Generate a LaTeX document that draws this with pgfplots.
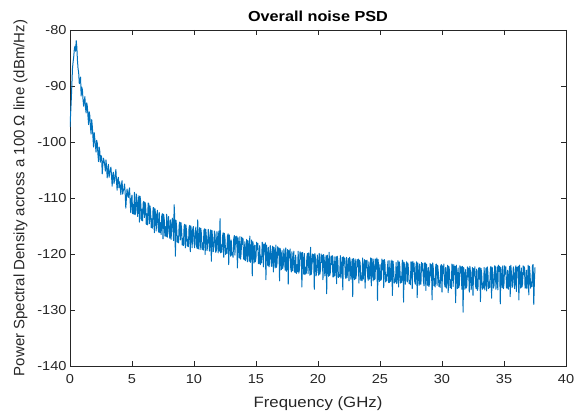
\documentclass[border=0pt]{standalone}
\usepackage{fontspec}
\setmainfont{Liberation Sans}[FakeStretch=1.12]
\newfontfamily\plainfont{Liberation Sans}
\usepackage{pgfplots}
\pgfplotsset{compat=1.18}
\definecolor{mblue}{rgb}{0,0.447,0.741}
\definecolor{mgray}{rgb}{0.15,0.15,0.15}
\begin{document}
\begin{tikzpicture}
\begin{axis}[
 scale only axis, width=496bp, height=336bp,
 xmin=0, xmax=40, ymin=-140, ymax=-80,
 xtick={0,5,...,40}, ytick={-140,-130,...,-80},
 tick align=inside, major tick length=5bp,
 axis line style={mgray, line width=0.5pt},
 every tick/.style={mgray, line width=0.5pt},
 /pgf/number format/assume math mode=true,
 tick label style={font=\fontsize{13bp}{15bp}\selectfont, text=mgray},
 xticklabel style={yshift=-5bp},
 label style={font=\fontsize{15bp}{18bp}\selectfont, text=mgray},
 xlabel style={yshift=-6bp},
 ylabel style={font=\plainfont\fontsize{15bp}{18bp}\selectfont, yshift=3bp},
 title style={font=\bfseries\fontsize{14.5bp}{17bp}\selectfont, yshift=-1bp},
 title={Overall noise PSD},
 xlabel={Frequency (GHz)},
 ylabel={Power Spectral Density across a 100 Ω line (dBm/Hz)},
]
\coordinate (ll) at (rel axis cs:0,0);
\coordinate (ur) at (rel axis cs:1,1);
\addplot[mblue, line width=1.0pt, line join=round] coordinates {
(0.0,-97.3)(0.05,-95.0)(0.1,-92.6)(0.15,-89.8)(0.2,-86.9)(0.25,-85.7)(0.3,-84.8)(0.35,-83.4)(0.4,-82.9)(0.45,-83.8)(0.5,-81.9)(0.55,-83.0)(0.6,-85.4)(0.65,-86.9)(0.7,-87.6)(0.75,-89.6)(0.8,-89.1)(0.85,-88.4)(0.9,-91.8)(0.95,-90.2)(1.0,-90.7)
(1.05,-92.4)(1.1,-93.6)(1.15,-92.8)(1.2,-91.9)(1.25,-93.9)(1.3,-94.8)(1.35,-93.0)(1.4,-93.7)(1.45,-95.4)(1.5,-96.9)(1.55,-94.6)(1.6,-95.3)(1.65,-97.3)(1.7,-98.6)(1.75,-96.0)(1.8,-97.2)(1.85,-99.1)(1.9,-100.9)(1.95,-98.3)(2.0,-99.4)
(2.05,-100.6)(2.1,-101.8)(2.15,-99.7)(2.2,-100.2)(2.25,-102.1)(2.3,-103.5)(2.35,-100.9)(2.4,-101.6)(2.45,-103.6)(2.5,-102.4)(2.55,-102.7)(2.6,-105.7)(2.65,-104.0)(2.7,-102.9)(2.75,-103.4)(2.8,-104.1)(2.85,-105.2)(2.9,-103.2)(2.95,-104.3)(3.0,-106.4)
(3.05,-105.0)(3.1,-104.0)(3.15,-106.3)(3.2,-105.6)(3.25,-104.9)(3.3,-104.5)(3.35,-106.1)(3.4,-107.9)(3.45,-105.8)(3.5,-105.4)(3.55,-107.4)(3.6,-106.8)(3.65,-105.9)(3.7,-104.9)(3.75,-107.0)(3.8,-108.6)(3.85,-106.7)(3.9,-106.3)(3.95,-108.2)(4.0,-107.1)
(4.05,-108.0)(4.1,-109.4)(4.15,-107.6)(4.2,-106.9)(4.25,-109.3)(4.3,-108.7)(4.35,-108.3)(4.4,-107.5)(4.45,-109.1)(4.5,-111.8)(4.55,-110.0)(4.6,-108.4)(4.65,-109.2)(4.7,-109.9)(4.75,-108.8)(4.8,-108.2)(4.85,-110.6)(4.9,-112.6)(4.95,-110.1)(5.0,-109.5)
(5.05,-112.8)(5.1,-111.2)(5.15,-112.9)(5.2,-109.0)(5.25,-113.0)(5.3,-112.4)(5.35,-109.3)(5.4,-110.1)(5.45,-113.3)(5.5,-111.7)(5.55,-109.6)(5.6,-114.3)(5.65,-109.7)(5.7,-110.6)(5.75,-114.0)(5.8,-112.0)(5.85,-114.1)(5.9,-110.9)(5.95,-110.6)(6.0,-113.5)
(6.05,-110.8)(6.1,-111.3)(6.15,-114.7)(6.2,-112.8)(6.25,-114.8)(6.3,-110.9)(6.35,-111.0)(6.4,-114.6)(6.45,-111.4)(6.5,-112.4)(6.55,-115.3)(6.6,-113.7)(6.65,-115.4)(6.7,-111.8)(6.75,-111.7)(6.8,-116.2)(6.85,-111.9)(6.9,-112.9)(6.95,-115.9)(7.0,-113.1)
(7.05,-112.2)(7.1,-115.0)(7.15,-116.1)(7.2,-112.6)(7.25,-116.2)(7.3,-114.4)(7.35,-116.5)(7.4,-113.2)(7.45,-112.8)(7.5,-117.3)(7.55,-112.9)(7.6,-113.8)(7.65,-116.8)(7.7,-115.1)(7.75,-116.9)(7.8,-112.9)(7.85,-117.0)(7.9,-114.7)(7.95,-113.3)(8.0,-116.0)
(8.05,-117.2)(8.1,-113.9)(8.15,-117.4)(8.2,-115.6)(8.25,-113.6)(8.3,-114.3)(8.35,-117.6)(8.4,-111.2)(8.45,-113.9)(8.5,-120.4)(8.55,-114.0)(8.6,-115.2)(8.65,-117.9)(8.7,-116.8)(8.75,-118.0)(8.8,-114.9)(8.85,-114.3)(8.9,-117.5)(8.95,-114.4)(9.0,-115.6)
(9.05,-118.4)(9.1,-117.2)(9.15,-118.5)(9.2,-115.1)(9.25,-114.7)(9.3,-118.9)(9.35,-114.8)(9.4,-116.0)(9.45,-118.6)(9.5,-117.4)(9.55,-118.7)(9.6,-115.3)(9.65,-114.9)(9.7,-119.6)(9.75,-115.0)(9.8,-116.4)(9.85,-118.9)(9.9,-115.5)(9.95,-115.1)(10.0,-117.8)
(10.05,-118.9)(10.1,-116.2)(10.15,-115.2)(10.2,-118.5)(10.25,-119.0)(10.3,-113.9)(10.35,-119.1)(10.4,-117.1)(10.45,-115.3)(10.5,-119.2)(10.55,-115.4)(10.6,-116.5)(10.65,-119.2)(10.7,-118.0)(10.75,-119.3)(10.8,-115.8)(10.85,-115.5)(10.9,-120.1)(10.95,-115.6)(11.0,-117.0)
(11.05,-119.4)(11.1,-118.6)(11.15,-115.6)(11.2,-116.3)(11.25,-119.5)(11.3,-117.9)(11.35,-115.7)(11.4,-121.3)(11.45,-115.8)(11.5,-117.2)(11.55,-119.6)(11.6,-118.8)(11.65,-115.9)(11.7,-116.6)(11.75,-119.7)(11.8,-119.4)(11.85,-116.0)(11.9,-117.6)(11.95,-119.8)(12.0,-115.9)
(12.05,-119.5)(12.1,-113.7)(12.15,-119.8)(12.2,-118.4)(12.25,-119.7)(12.3,-116.9)(12.35,-116.2)(12.4,-120.6)(12.45,-116.3)(12.5,-117.3)(12.55,-120.1)(12.6,-119.0)(12.65,-119.9)(12.7,-116.8)(12.75,-116.4)(12.8,-121.9)(12.85,-116.6)(12.9,-118.2)(12.95,-120.4)(13.0,-117.5)
(13.05,-120.2)(13.1,-119.7)(13.15,-120.6)(13.2,-117.4)(13.25,-116.7)(13.3,-120.2)(13.35,-116.9)(13.4,-118.1)(13.45,-116.8)(13.5,-122.5)(13.55,-117.1)(13.6,-118.6)(13.65,-120.7)(13.7,-116.9)(13.75,-120.9)(13.8,-119.9)(13.85,-117.0)(13.9,-118.3)(13.95,-117.2)(14.0,-120.8)
(14.05,-121.0)(14.1,-117.8)(14.15,-121.2)(14.2,-119.5)(14.25,-117.4)(14.3,-121.4)(14.35,-117.6)(14.4,-118.6)(14.45,-121.3)(14.5,-116.8)(14.55,-121.5)(14.6,-120.3)(14.65,-117.5)(14.7,-123.9)(14.75,-117.8)(14.8,-119.1)(14.85,-121.6)(14.9,-118.4)(14.95,-121.4)(15.0,-120.6)
(15.05,-117.9)(15.1,-119.2)(15.15,-118.1)(15.2,-121.7)(15.25,-121.7)(15.3,-118.5)(15.35,-121.9)(15.4,-120.4)(15.45,-121.6)(15.5,-117.9)(15.55,-118.2)(15.6,-122.3)(15.65,-118.3)(15.7,-119.6)(15.75,-118.0)(15.8,-124.6)(15.85,-118.4)(15.9,-120.0)(15.95,-122.1)(16.0,-118.8)
(16.05,-122.3)(16.1,-121.5)(16.15,-118.5)(16.2,-119.3)(16.25,-122.2)(16.3,-120.9)(16.35,-118.6)(16.4,-123.2)(16.45,-118.8)(16.5,-119.8)(16.55,-122.5)(16.6,-118.4)(16.65,-122.4)(16.7,-121.6)(16.75,-118.7)(16.8,-120.2)(16.85,-118.9)(16.9,-124.8)(16.95,-119.0)(17.0,-120.5)
(17.05,-122.8)(17.1,-119.4)(17.15,-122.6)(17.2,-122.0)(17.25,-119.1)(17.3,-120.6)(17.35,-122.9)(17.4,-118.9)(17.45,-123.1)(17.5,-121.8)(17.55,-119.2)(17.6,-125.4)(17.65,-119.4)(17.7,-120.7)(17.75,-119.1)(17.8,-122.5)(17.85,-123.2)(17.9,-119.6)(17.95,-123.0)(18.0,-121.3)
(18.05,-119.5)(18.1,-123.1)(18.15,-123.3)(18.2,-120.2)(18.25,-123.5)(18.3,-121.9)(18.35,-123.2)(18.4,-119.5)(18.45,-123.4)(18.5,-122.8)(18.55,-119.6)(18.6,-120.9)(18.65,-119.8)(18.7,-125.9)(18.75,-119.7)(18.8,-121.2)(18.85,-123.6)(18.9,-119.9)(18.95,-123.7)(19.0,-122.4)
(19.05,-123.5)(19.1,-120.6)(19.15,-119.9)(19.2,-123.5)(19.25,-119.8)(19.3,-121.1)(19.35,-123.8)(19.4,-118.8)(19.45,-123.7)(19.5,-122.7)(19.55,-120.0)(19.6,-121.4)(19.65,-120.1)(19.7,-126.3)(19.75,-119.9)(19.8,-120.9)(19.85,-123.9)(19.9,-123.0)(19.95,-120.2)(20.0,-121.6)
(20.05,-123.8)(20.1,-119.9)(20.15,-123.6)(20.2,-122.9)(20.25,-120.0)(20.3,-121.5)(20.35,-120.2)(20.4,-124.6)(20.45,-120.1)(20.5,-120.8)(20.55,-123.9)(20.6,-122.3)(20.65,-120.3)(20.7,-127.1)(20.75,-120.2)(20.8,-121.8)(20.85,-124.0)(20.9,-119.7)(20.95,-123.8)(21.0,-123.2)
(21.05,-120.4)(21.1,-121.9)(21.15,-120.3)(21.2,-124.1)(21.25,-124.1)(21.3,-120.5)(21.35,-123.9)(21.4,-122.6)(21.45,-120.5)(21.5,-125.3)(21.55,-120.4)(21.6,-121.2)(21.65,-124.2)(21.7,-123.7)(21.75,-124.0)(21.8,-120.3)(21.85,-124.3)(21.9,-122.8)(21.95,-120.6)(22.0,-126.4)
(22.05,-120.5)(22.1,-121.7)(22.15,-120.7)(22.2,-123.9)(22.25,-124.4)(22.3,-120.6)(22.35,-124.2)(22.4,-122.4)(22.45,-120.8)(22.5,-124.8)(22.55,-120.6)(22.6,-121.3)(22.65,-124.5)(22.7,-123.1)(22.75,-120.9)(22.8,-127.6)(22.85,-120.8)(22.9,-122.0)(22.95,-124.6)(23.0,-120.9)
(23.05,-124.4)(23.1,-123.6)(23.15,-121.0)(23.2,-122.3)(23.25,-120.9)(23.3,-125.2)(23.35,-121.1)(23.4,-121.6)(23.45,-124.7)(23.5,-123.9)(23.55,-124.8)(23.6,-120.7)(23.65,-124.5)(23.7,-122.8)(23.75,-121.0)(23.8,-126.1)(23.85,-121.2)(23.9,-122.5)(23.95,-121.1)(24.0,-124.0)
(24.05,-124.7)(24.1,-121.4)(24.15,-124.5)(24.2,-123.3)(24.25,-120.7)(24.3,-125.7)(24.35,-120.8)(24.4,-122.2)(24.45,-124.8)(24.5,-120.9)(24.55,-124.6)(24.6,-124.4)(24.65,-120.9)(24.7,-122.7)(24.75,-120.7)(24.8,-128.3)(24.85,-121.0)(24.9,-123.5)(24.95,-124.9)(25.0,-121.9)
(25.05,-124.7)(25.1,-124.6)(25.15,-120.9)(25.2,-122.8)(25.25,-121.1)(25.3,-126.0)(25.35,-121.0)(25.4,-121.6)(25.45,-125.0)(25.5,-123.7)(25.55,-124.8)(25.6,-122.4)(25.65,-121.2)(25.7,-125.1)(25.75,-125.1)(25.8,-121.2)(25.85,-124.9)(25.9,-124.2)(25.95,-121.1)(26.0,-127.4)
(26.05,-121.3)(26.1,-122.6)(26.15,-125.2)(26.2,-124.5)(26.25,-125.0)(26.3,-121.5)(26.35,-125.3)(26.4,-123.8)(26.45,-121.2)(26.5,-125.9)(26.55,-121.4)(26.6,-122.3)(26.65,-125.2)(26.7,-124.0)(26.75,-125.1)(26.8,-121.1)(26.85,-121.3)(26.9,-128.6)(26.95,-121.5)(27.0,-123.4)
(27.05,-125.4)(27.1,-122.0)(27.15,-121.4)(27.2,-125.0)(27.25,-121.6)(27.3,-122.9)(27.35,-125.3)(27.4,-124.7)(27.45,-125.5)(27.5,-121.4)(27.55,-121.5)(27.6,-126.2)(27.65,-121.3)(27.7,-123.1)(27.75,-121.6)(27.8,-124.9)(27.85,-125.4)(27.9,-122.2)(27.95,-121.4)(28.0,-127.8)
(28.05,-121.6)(28.1,-123.3)(28.15,-125.6)(28.2,-121.8)(28.25,-125.4)(28.3,-125.4)(28.35,-121.5)(28.4,-123.0)(28.45,-121.7)(28.5,-124.8)(28.55,-125.7)(28.6,-121.6)(28.65,-121.6)(28.7,-126.5)(28.75,-121.8)(28.8,-123.6)(28.85,-125.6)(28.9,-122.4)(28.95,-125.8)(29.0,-125.1)
(29.05,-121.7)(29.1,-123.9)(29.15,-121.9)(29.2,-128.2)(29.25,-121.6)(29.3,-122.6)(29.35,-125.7)(29.4,-124.4)(29.45,-125.9)(29.5,-121.9)(29.55,-121.8)(29.6,-125.6)(29.65,-122.0)(29.7,-123.2)(29.75,-125.8)(29.8,-124.7)(29.85,-126.0)(29.9,-122.1)(29.95,-121.9)(30.0,-126.8)
(30.05,-122.1)(30.1,-123.5)(30.15,-121.8)(30.2,-125.3)(30.25,-125.9)(30.3,-122.4)(30.35,-126.1)(30.4,-124.1)(30.45,-122.0)(30.5,-126.9)(30.55,-122.2)(30.6,-122.9)(30.65,-126.0)(30.7,-124.6)(30.75,-126.2)(30.8,-121.8)(30.85,-122.1)(30.9,-125.8)(30.95,-121.9)(31.0,-123.7)
(31.05,-122.2)(31.1,-128.7)(31.15,-122.0)(31.2,-124.0)(31.25,-126.2)(31.3,-122.5)(31.35,-126.0)(31.4,-125.5)(31.45,-122.1)(31.5,-123.4)(31.55,-122.3)(31.6,-126.3)(31.65,-122.2)(31.7,-130.4)(31.75,-122.4)(31.8,-124.2)(31.85,-126.3)(31.9,-122.8)(31.95,-126.1)(32.0,-125.7)
(32.05,-122.3)(32.1,-124.1)(32.15,-122.5)(32.2,-126.8)(32.25,-122.2)(32.3,-123.3)(32.35,-126.4)(32.4,-125.2)(32.45,-122.4)(32.5,-127.4)(32.55,-122.6)(32.6,-123.9)(32.65,-122.3)(32.7,-125.6)(32.75,-126.2)(32.8,-122.7)(32.85,-126.5)(32.9,-126.1)(32.95,-122.5)(33.0,-124.5)
(33.05,-122.4)(33.1,-128.5)(33.15,-122.6)(33.2,-123.6)(33.25,-126.3)(33.3,-125.3)(33.35,-126.1)(33.4,-122.4)(33.45,-126.4)(33.5,-124.8)(33.55,-122.5)(33.6,-126.6)(33.65,-122.3)(33.7,-123.2)(33.75,-126.2)(33.8,-125.0)(33.85,-126.0)(33.9,-122.6)(33.95,-122.2)(34.0,-127.9)
(34.05,-122.4)(34.1,-123.8)(34.15,-126.1)(34.2,-125.6)(34.25,-122.1)(34.3,-122.3)(34.35,-126.3)(34.4,-124.5)(34.45,-122.3)(34.5,-126.4)(34.55,-122.0)(34.6,-123.1)(34.65,-122.2)(34.7,-128.9)(34.75,-122.4)(34.8,-124.2)(34.85,-126.0)(34.9,-122.1)(34.95,-126.2)(35.0,-125.3)
(35.05,-122.1)(35.1,-123.6)(35.15,-122.3)(35.2,-126.0)(35.25,-126.1)(35.3,-122.9)(35.35,-126.3)(35.4,-124.7)(35.45,-122.2)(35.5,-127.6)(35.55,-122.0)(35.6,-123.4)(35.65,-126.0)(35.7,-125.5)(35.75,-122.3)(35.8,-122.8)(35.85,-126.2)(35.9,-124.9)(35.95,-122.1)(36.0,-126.7)
(36.05,-122.4)(36.1,-123.0)(36.15,-122.2)(36.2,-128.2)(36.25,-122.0)(36.3,-124.4)(36.35,-126.1)(36.4,-122.5)(36.45,-125.9)(36.5,-125.2)(36.55,-122.1)(36.6,-123.7)(36.65,-122.3)(36.7,-126.1)(36.75,-126.0)(36.8,-122.9)(36.85,-126.2)(36.9,-124.6)(36.95,-122.0)(37.0,-127.3)
(37.05,-122.2)(37.1,-123.5)(37.15,-126.1)(37.2,-125.0)(37.25,-125.8)(37.3,-122.0)(37.35,-121.9)(37.4,-129.0)(37.45,-125.0)(37.5,-122.4)
};
\end{axis}
\pgfresetboundingbox
\path ([shift={(-70bp,-46bp)}]ll) rectangle ([shift={(9bp,30bp)}]ur);
\end{tikzpicture}
\end{document}
